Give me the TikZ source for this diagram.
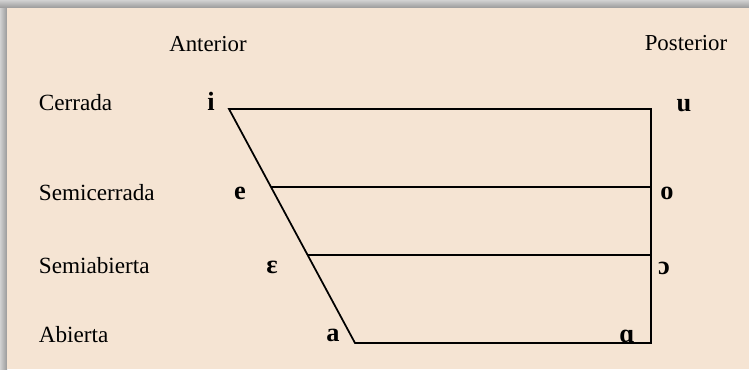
\documentclass[tikz,border=0pt]{standalone}
\usepackage{fontspec}
\setmainfont{Liberation Serif}
\usetikzlibrary{calc}
\definecolor{panel}{RGB}{245,228,211}

\begin{document}
\begin{tikzpicture}[x=0.02cm, y=-0.02cm, line width=1pt,
  rowlabel/.style={anchor=base west, inner sep=0pt, font=\fontsize{13.2}{15}\selectfont},
  collabel/.style={anchor=base, font=\fontsize{13}{15}\selectfont},
  vowel/.style={anchor=base, font=\fontsize{15}{17}\selectfont\bfseries}]
  \useasboundingbox (0,0) rectangle (749,369);
  % fondo con sombra arriba y a la izquierda
  \fill[black!25] (0,0) rectangle (749,369);
  \shade[top color=black!18, bottom color=black!40] (0,0) rectangle (749,8);
  \shade[left color=black!18, right color=black!40] (0,8) rectangle (7,369);
  \fill[panel] (7,8) rectangle (749,369);
  % vertices del trapecio
  \coordinate (I) at (229,109);
  \coordinate (U) at (651,109);
  \coordinate (A) at (355,343);
  \coordinate (Ao) at (651,343);
  % e y epsilon sobre la diagonal
  \coordinate (E) at ($(I)!0.333!(A)$);
  \coordinate (O) at (651,187);
  \coordinate (Ep) at ($(I)!0.624!(A)$);
  \coordinate (Op) at (651,255);
  \draw (I)--(U)--(Ao)--(A)--cycle;
  \draw (E)--(O);
  \draw (Ep)--(Op);
  % etiquetas
  \node[collabel] (anterior) at (208,51) {Anterior};
  \node[collabel] (posterior) at (686,50) {Posterior};
  \node[rowlabel] (cerrada) at (38,110) {Cerrada};
  \node[rowlabel] (semicerrada) at (38,200) {Semicerrada};
  \node[rowlabel] (semiabierta) at (38,273) {Semiabierta};
  \node[rowlabel] (abierta) at (38,342) {Abierta};
  % vocales
  \node[vowel] (i) at (211,110) {i};
  \node[vowel] (u) at (684,111) {u};
  \node[vowel] (e) at (240,199) {e};
  \node[vowel] (o) at (667,199) {o};
  \node[vowel] (eps) at (272,273) {ɛ};
  \node[vowel] (oo) at (664,274) {ɔ};
  \node[vowel] (a) at (333,341) {a};
  \node[vowel] (ao) at (627,342) {ɑ};
\end{tikzpicture}
\end{document}
